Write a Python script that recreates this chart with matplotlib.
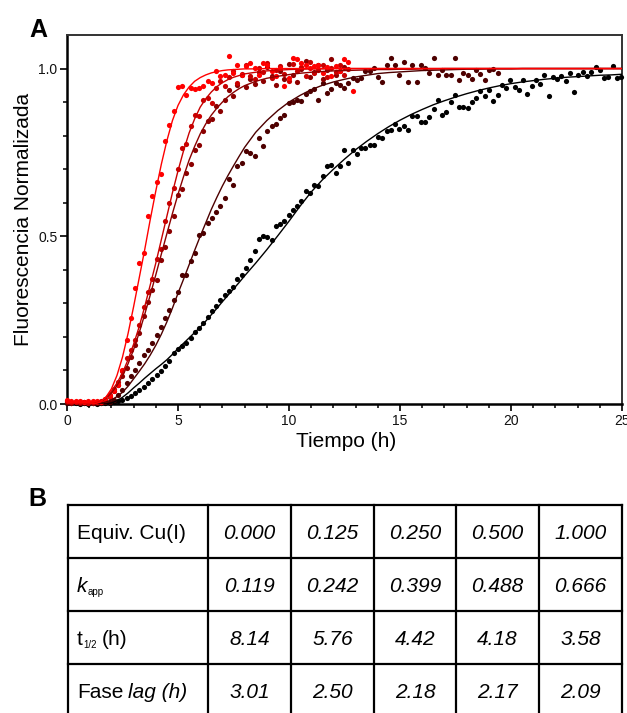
import numpy as np
import matplotlib
matplotlib.use('Agg')
import matplotlib.pyplot as plt
from matplotlib.ticker import MultipleLocator, FixedLocator

plt.rcParams['font.family'] = ['Liberation Sans', 'DejaVu Sans']

# --- data -----------------------------------------------------------------
step_h = 0.192   # sampling interval (h)

pts_000 = [0.003, 0.002, 0.002, 0.001, 0.002, 0.001, 0.002, 0.001, 0.002, 0.002,
           0.004, 0.006, 0.010, 0.013, 0.019, 0.025, 0.033, 0.043, 0.052, 0.063,
           0.076, 0.086, 0.099, 0.114, 0.128, 0.152, 0.164, 0.172, 0.182, 0.198,
           0.214, 0.226, 0.240, 0.258, 0.276, 0.293, 0.310, 0.325, 0.336, 0.350,
           0.372, 0.385, 0.405, 0.428, 0.455, 0.492, 0.501, 0.499, 0.490, 0.530,
           0.536, 0.545, 0.562, 0.578, 0.590, 0.605,
           0.634, 0.629, 0.654, 0.649, 0.679, 0.709, 0.713, 0.689, 0.709, 0.756,
           0.718, 0.756, 0.746, 0.763, 0.763, 0.773, 0.773, 0.796, 0.793, 0.813,
           0.818, 0.836, 0.820, 0.830, 0.816, 0.858, 0.858, 0.841, 0.841, 0.855,
           0.880, 0.907, 0.862, 0.870,
           0.900, 0.922, 0.885, 0.886, 0.883, 0.900, 0.912, 0.932, 0.917, 0.937,
           0.902, 0.922, 0.952, 0.942, 0.965, 0.944, 0.937, 0.965, 0.924, 0.949,
           0.965, 0.955, 0.981, 0.917, 0.974, 0.969, 0.979, 0.962, 0.987, 0.929,
           0.982, 0.989, 0.979, 0.989, 1.005, 0.997, 0.972, 0.974, 1.007, 0.972,
           0.975]

pts_125 = [0.004, 0.003, 0.005, 0.003, 0.004, 0.002, 0.004, 0.003, 0.004, 0.005, 0.007,
           0.012, 0.027, 0.042, 0.062, 0.082, 0.102, 0.122, 0.146, 0.161, 0.181,
           0.206, 0.231, 0.256, 0.281, 0.310, 0.335, 0.385, 0.386, 0.425, 0.450,
           0.505, 0.510,
           0.539, 0.554, 0.571, 0.589, 0.614, 0.671, 0.654, 0.709, 0.718, 0.753,
           0.748, 0.740, 0.793, 0.768, 0.813, 0.830, 0.836, 0.853, 0.862, 0.897,
           0.900, 0.907, 0.902, 0.925, 0.934, 0.939,
           0.907, 0.957, 0.927, 0.940, 0.957, 0.950, 0.942, 0.957, 0.972, 0.965,
           0.972, 0.992, 0.992, 1.002, 0.975, 0.960, 1.010, 1.032, 1.010, 0.982,
           1.020, 0.960, 1.010, 0.960, 1.010, 1.002, 0.987, 1.032, 0.982, 0.997,
           0.982, 0.982, 1.032, 0.967, 0.987, 0.982, 0.970, 0.997, 0.984, 0.967,
           0.997, 1.000, 0.987]

pts_250 = [0.006, 0.004, 0.005, 0.003, 0.005, 0.004, 0.003, 0.005, 0.006, 0.012,
           0.022, 0.040, 0.058, 0.082, 0.108, 0.140, 0.175, 0.212, 0.261, 0.305,
           0.340, 0.370, 0.430, 0.468, 0.515, 0.560, 0.622, 0.640, 0.688, 0.715,
           0.758, 0.772, 0.815, 0.843, 0.850, 0.888, 0.874, 0.905, 0.937, 0.918,
           0.951, 0.982, 0.946, 0.968, 0.955, 0.990, 0.962, 1.006, 0.978, 0.950,
           0.993, 0.968, 1.015, 0.982, 0.960, 0.998, 1.022, 0.975, 0.990, 1.012,
           0.968, 0.995, 1.028, 0.980, 0.992, 1.005]

pts_500 = [0.008, 0.006, 0.007, 0.005, 0.006, 0.004, 0.006, 0.005, 0.008, 0.014,
           0.026, 0.045, 0.066, 0.097, 0.136, 0.161, 0.192, 0.236, 0.290, 0.335,
           0.372, 0.432, 0.462, 0.545, 0.600, 0.645, 0.700, 0.762, 0.775, 0.830,
           0.862, 0.858, 0.905, 0.912, 0.896, 0.941, 0.962, 0.948, 0.975, 0.992,
           0.958, 0.985, 1.012, 0.978, 0.968, 1.002, 0.990, 1.018, 0.972, 0.995,
           1.008, 0.983, 0.962, 1.015, 0.993, 1.004, 0.978, 1.021, 0.988, 0.996,
           1.012, 0.975, 1.003, 0.990, 1.010, 0.982, 0.998]

pts_1000 = [0.012, 0.010, 0.008, 0.010, 0.007, 0.009, 0.008, 0.010, 0.007, 0.015,
            0.025, 0.038, 0.058, 0.100, 0.190, 0.256, 0.345, 0.420, 0.450, 0.559,
            0.621, 0.661, 0.687, 0.783, 0.833, 0.873, 0.944, 0.947, 0.922, 0.942,
            0.939, 0.942, 0.947, 0.962, 0.957, 0.992, 0.977, 0.982, 1.037, 0.987,
            1.012, 0.982, 1.007, 1.017, 1.002, 0.982, 1.017, 1.012, 0.992, 0.977,
            1.002, 0.947, 0.972, 1.032, 1.027, 1.017, 1.012, 1.002, 1.007, 1.012,
            0.987, 1.005, 0.977, 1.007, 0.992, 1.027, 1.020, 0.932]

# fitted curves: every 0.25 h up to 7.75 h, then every 0.5 h up to 25 h
fit_t = list(np.arange(0, 8, 0.25)) + list(np.arange(8, 25.01, 0.5))

fit_000 = [0, 0, 0, 0, 0, 0, 0, 0,
           0.003, 0.010, 0.020, 0.033, 0.048, 0.062, 0.077, 0.091, 0.105, 0.118,
           0.132, 0.148, 0.165, 0.181, 0.197, 0.213, 0.229, 0.247, 0.266, 0.285,
           0.305, 0.324, 0.343, 0.362,
           0.382, 0.420, 0.460, 0.502, 0.545, 0.590, 0.632, 0.668, 0.700, 0.730,
           0.758, 0.783, 0.806, 0.827, 0.846, 0.863, 0.878, 0.892, 0.904, 0.915,
           0.925, 0.934, 0.942, 0.949, 0.955, 0.960, 0.964, 0.968, 0.971, 0.974,
           0.976, 0.978, 0.980, 0.981, 0.983]

fit_125 = [0, 0, 0, 0, 0, 0,
           0.002, 0.006, 0.012, 0.022, 0.035, 0.053, 0.075, 0.097, 0.120, 0.146,
           0.175, 0.208, 0.245, 0.286, 0.330, 0.372, 0.415, 0.458, 0.500, 0.540,
           0.580, 0.616, 0.650, 0.681, 0.710, 0.738,
           0.765, 0.810, 0.845, 0.875, 0.900, 0.920, 0.937, 0.950, 0.960, 0.968,
           0.975, 0.980, 0.985, 0.988, 0.990, 0.992, 0.994, 0.995, 0.996, 0.997,
           0.998, 0.998, 0.999, 0.999, 0.999, 1.0, 1.0, 1.0, 1.0, 1.0,
           1.0, 1.0, 1.0, 1.0, 1.0]

fit_250 = [0, 0, 0, 0, 0,
           0.001, 0.006, 0.017, 0.033, 0.055, 0.083, 0.120, 0.162, 0.212, 0.267,
           0.325, 0.385, 0.447, 0.508, 0.568, 0.625, 0.678, 0.727, 0.768, 0.805,
           0.835, 0.861, 0.882, 0.900, 0.916, 0.929, 0.940,
           0.949, 0.962, 0.971, 0.977, 0.982, 0.986, 0.989, 0.991, 0.993, 0.994,
           0.995, 0.996, 0.997, 0.997, 0.998, 0.998, 0.999, 0.999, 1.0, 1.0,
           1.0, 1.0, 1.0, 1.0, 1.0, 1.0, 1.0, 1.0, 1.0, 1.0,
           1.0, 1.0, 1.0, 1.0, 1.0]

fit_500 = [0, 0, 0, 0, 0,
           0.002, 0.008, 0.020, 0.038, 0.062, 0.093, 0.132, 0.178, 0.230, 0.290,
           0.355, 0.420, 0.490, 0.560, 0.630, 0.695, 0.755, 0.808, 0.850, 0.885,
           0.910, 0.930, 0.946, 0.958, 0.967, 0.974, 0.979,
           0.984, 0.989, 0.993, 0.995, 0.997, 0.998, 0.999, 0.999, 1.0, 1.0,
           1.0, 1.0, 1.0, 1.0, 1.0, 1.0, 1.0, 1.0, 1.0, 1.0,
           1.0, 1.0, 1.0, 1.0, 1.0, 1.0, 1.0, 1.0, 1.0, 1.0,
           1.0, 1.0, 1.0, 1.0, 1.0]

fit_1000 = [0, 0, 0, 0, 0,
            0.001, 0.006, 0.020, 0.045, 0.085, 0.140, 0.210, 0.290, 0.375, 0.460,
            0.550, 0.635, 0.715, 0.785, 0.845, 0.890, 0.922, 0.945, 0.962, 0.973,
            0.981, 0.987, 0.991, 0.994, 0.996, 0.997, 0.998,
            0.999, 0.999, 1.0, 1.0, 1.0, 1.0, 1.0, 1.0, 1.0, 1.0,
            1.0, 1.0, 1.0, 1.0, 1.0, 1.0, 1.0, 1.0, 1.0, 1.0,
            1.0, 1.0, 1.0, 1.0, 1.0, 1.0, 1.0, 1.0, 1.0, 1.0,
            1.0, 1.0, 1.0, 1.0, 1.0]

colors = ['#000000', '#4d0000', '#8b0000', '#c80000', '#ff0000']
points = [pts_000, pts_125, pts_250, pts_500, pts_1000]
fits = [fit_000, fit_125, fit_250, fit_500, fit_1000]

# table B
cu_equiv = [0.000, 0.125, 0.250, 0.500, 1.000]
k_app = [0.119, 0.242, 0.399, 0.488, 0.666]
t_half = [8.14, 5.76, 4.42, 4.18, 3.58]
lag_phase = [3.01, 2.50, 2.18, 2.17, 2.09]

# --- figure ----------------------------------------------------------------
W, H = 627, 713
fig = plt.figure(figsize=(W / 100, H / 100), dpi=100)


def fx(px):
    return px / W


def fy(py):
    return 1 - py / H


ax = fig.add_axes([fx(67), fy(404), fx(622) - fx(67), fy(35) - fy(404)])

for y, col in zip(points, colors):
    t = np.arange(len(y)) * step_h
    ax.scatter(t, y, s=14, color=col, linewidths=0, clip_on=False, zorder=3)
for f, col in zip(fits, colors):
    ax.plot(fit_t, f, color=col, lw=1.0, zorder=4)

ax.set_xlim(0, 25)
ax.set_ylim(0, 1.1)
ax.xaxis.set_major_locator(MultipleLocator(5))
ax.xaxis.set_minor_locator(MultipleLocator(1))
ax.set_yticks([0, 0.5, 1.0])
ax.set_yticklabels(['0.0', '0.5', '1.0'])
ax.yaxis.set_minor_locator(FixedLocator([0.1, 0.2, 0.3, 0.4, 0.6, 0.7, 0.8, 0.9]))
ax.tick_params(which='major', direction='out', length=5, width=1.3,
               labelsize=10, pad=2, colors='#111111')
ax.tick_params(which='minor', direction='out', length=3, width=1.1)
for side in ['left', 'bottom']:
    ax.spines[side].set_linewidth(1.8)
for side in ['top', 'right']:
    ax.spines[side].set_linewidth(1.4)
    ax.spines[side].set_color('#333333')

fig.text(fx(24), fy(219), 'Fluorescencia Normalizada', rotation=90,
         ha='center', va='center', fontsize=15)
fig.text(fx(346), fy(447), 'Tiempo (h)', ha='center', va='baseline', fontsize=15)
fig.text(fx(29), fy(37), 'A', fontsize=18, fontweight='bold', va='baseline')
fig.text(fx(28), fy(506), 'B', fontsize=18, fontweight='bold', va='baseline')

# --- table -----------------------------------------------------------------
tab = fig.add_axes([0, 0, 1, 1], zorder=-1)
tab.set_xlim(0, W)
tab.set_ylim(H, 0)
tab.axis('off')

col_edges = [68, 208, 291, 374, 456, 539, 622]
row_edges = [505, 558, 611, 664, 717]

for x in col_edges:
    tab.plot([x, x], [row_edges[0], row_edges[-1]], color='k', lw=1.6)
for y in row_edges:
    tab.plot([col_edges[0], col_edges[-1]], [y, y], color='k', lw=1.6)

rend = fig.canvas.get_renderer()


def draw_parts(x, y, parts):
    for txt, size, style, dy, gap in parts:
        t = tab.text(x, y + dy, txt, fontsize=size, style=style,
                     ha='left', va='baseline')
        x += t.get_window_extent(rend).width + gap


rows = [
    ([('Equiv. Cu(I)', 15, 'normal', 0, 0)], ['%.3f' % v for v in cu_equiv]),
    ([('k', 15, 'italic', 0, 0.5), ('app', 7, 'normal', 3, 0)], ['%.3f' % v for v in k_app]),
    ([('t', 15, 'normal', 0, 0.5), ('1/2', 7, 'normal', 3, 5), ('(h)', 15, 'normal', 0, 0)],
     ['%.2f' % v for v in t_half]),
    ([('Fase', 15, 'normal', 0, 5), ('lag (h)', 15, 'italic', 0, 0)],
     ['%.2f' % v for v in lag_phase]),
]

for i, (label, vals) in enumerate(rows):
    base = (row_edges[i] + row_edges[i + 1]) / 2 + 7.5
    draw_parts(col_edges[0] + 9, base, label)
    for j, v in enumerate(vals):
        cx = (col_edges[j + 1] + col_edges[j + 2]) / 2
        tab.text(cx, base, v, fontsize=15, style='italic', ha='center', va='baseline')

fig.savefig('out.png', dpi=100)
